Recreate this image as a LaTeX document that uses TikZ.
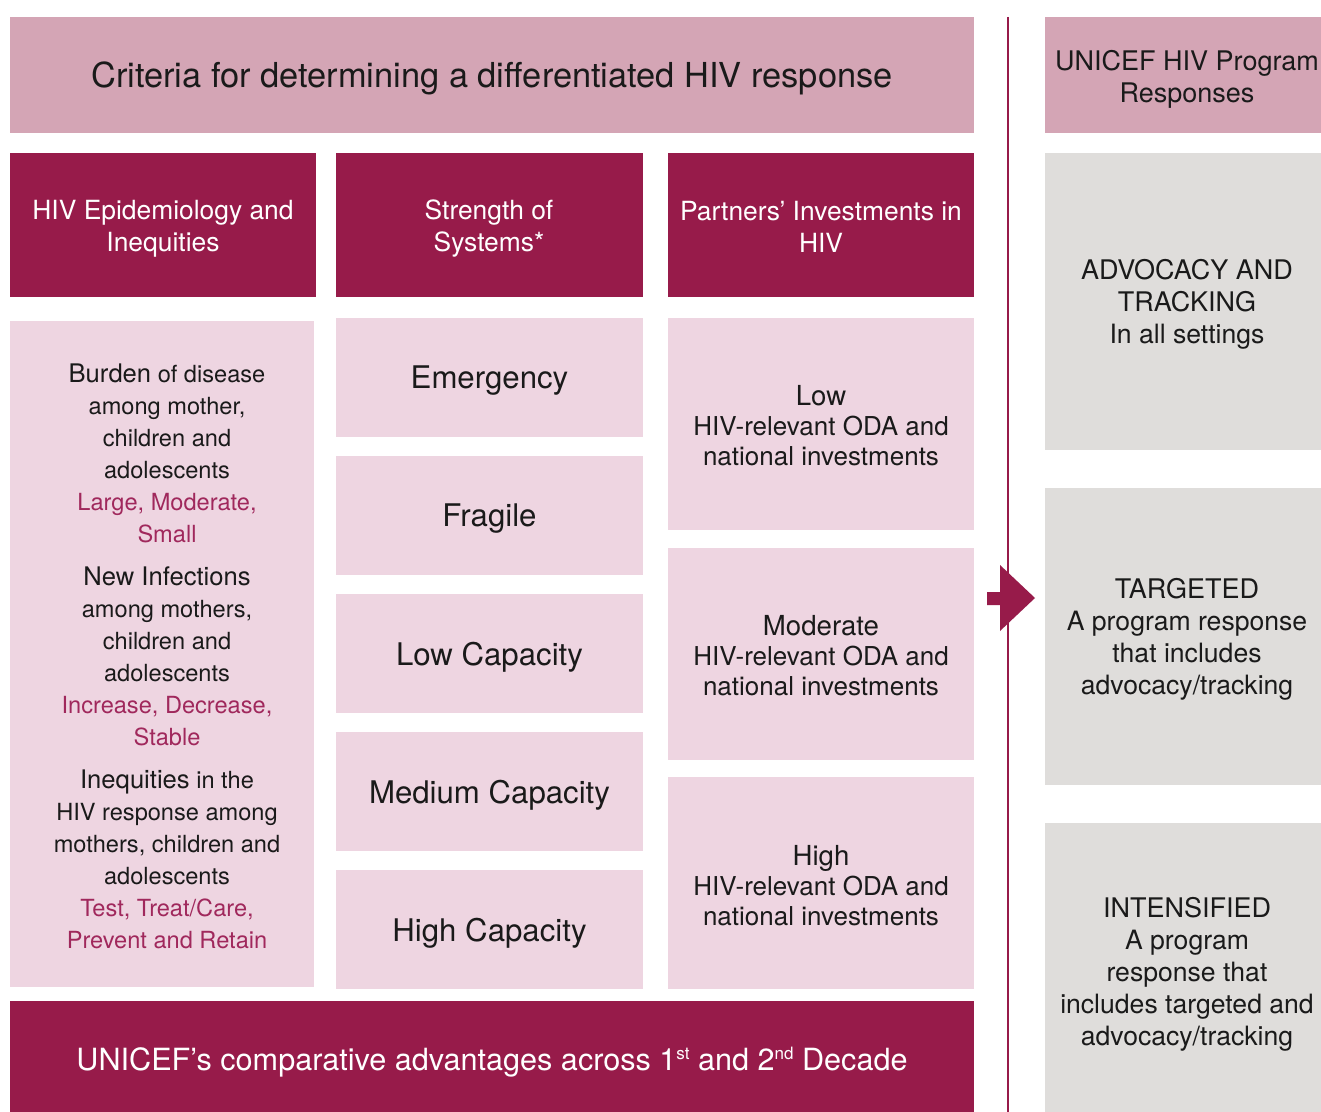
\documentclass[tikz,border=0pt]{standalone}
\usepackage{fontspec}
\setmainfont{TeX Gyre Heros}
\definecolor{unired}{HTML}{971B4A}
\definecolor{unimauve}{HTML}{D4A5B5}
\definecolor{unipink}{HTML}{EED5E1}
\definecolor{unigrey}{HTML}{DFDDDB}
\definecolor{unitext}{HTML}{A0285C}
\definecolor{unink}{HTML}{1A1A1A}
\tikzset{
	hdr/.style={text=white, align=center, font=\fontsize{13.2}{16}\selectfont},
	sys/.style={text=unink, align=center, font=\fontsize{15.6}{18}\selectfont},
	inv/.style={text=unink, align=center, font=\fontsize{13}{15}\selectfont},
	resp/.style={text=unink, align=center, font=\fontsize{13.3}{16}\selectfont},
	big/.style={align=center},
}
\newcommand{\hl}[1]{\textcolor{unitext}{#1}}
\newcommand{\sups}[1]{\raisebox{5.5pt}{\fontsize{8.5}{9}\selectfont #1}}
\begin{document}
\begin{tikzpicture}[x=0.5pt, y=-0.5pt]
		\useasboundingbox (0,0) rectangle (1321,1112);
		
		% top bars
		\fill[unimauve] (10,17) rectangle (974,133);
		\node[big, text=unink, font=\fontsize{17.2}{20}\selectfont] (crit) at (492,78) {Criteria for determining a differentiated HIV response};
		\fill[unimauve] (1045,17) rectangle (1321,133);
		\node[resp, font=\fontsize{13.5}{16}\selectfont] (resphead) at (1187,79) {UNICEF HIV Program\\Responses};
		
		% column heads
		\fill[unired] (10,153) rectangle (316,297);
		\node[hdr] (epi) at (163,229) {HIV Epidemiology and\\Inequities};
		\fill[unired] (336,153) rectangle (643,297);
		\node[hdr] (strength) at (489,229) {Strength of\\Systems*};
		\fill[unired] (668,153) rectangle (974,297);
		\node[hdr] (partners) at (821,227) {Partners’ Investments in\\HIV};
		
		% epidemiology
		\fill[unipink] (10,321) rectangle (314,987);
		\node[text=unink, align=center, font=\fontsize{11.8}{16}\selectfont] (burden) at (167,656) {%
			{\fontsize{12.8}{16}\selectfont Burden} of disease\\among mother,\\children and\\adolescents\\
			\hl{Large, Moderate,}\\\hl{Small}\\[5.5pt]
			{\fontsize{12.8}{16}\selectfont New Infections}\\among mothers,\\children and\\adolescents\\
			\hl{Increase, Decrease,}\\\hl{Stable}\\[5.5pt]
			{\fontsize{12.8}{16}\selectfont Inequities} in the\\HIV response among\\mothers, children and\\adolescents\\
			\hl{Test, Treat/Care,}\\\hl{Prevent and Retain}};
		
		% strength of systems
		\foreach \lbl/\y [count=\i] in {Emergency/378, Fragile/516, Low Capacity/654, Medium Capacity/792, High Capacity/930}{
			\fill[unipink] (336,\y-60) rectangle (643,\y+59);
			\node[sys] (sys\i) at (489.5,\y+3) {\lbl};
		}
		
		% investments
		\fill[unipink] (668,318) rectangle (974,530);
		\node[inv] (low) at (821,426) {{\fontsize{13.8}{15}\selectfont Low}\\HIV-relevant ODA and\\national investments};
		\fill[unipink] (668,548) rectangle (974,760);
		\node[inv] (moderate) at (821,656) {{\fontsize{13.8}{15}\selectfont Moderate}\\HIV-relevant ODA and\\national investments};
		\fill[unipink] (668,777) rectangle (974,989);
		\node[inv] (high) at (821,886) {{\fontsize{13.8}{15}\selectfont High}\\HIV-relevant ODA and\\national investments};
		
		% bottom bar
		\fill[unired] (10,1001) rectangle (974,1112);
		\node[big, text=white, font=\fontsize{15.3}{18}\selectfont] (adv) at (492,1062) {UNICEF’s comparative advantages across 1\sups{st} and 2\sups{nd} Decade};
		
		% divider and arrow
		\draw[unired, line width=1pt] (1008,17) -- (1008,1112);
		\fill[unired] (987,592) -- (1000,592) -- (1000,565) -- (1035,598) -- (1000,631) -- (1000,605) -- (987,605) -- cycle;
		
		% responses
		\fill[unigrey] (1045,153) rectangle (1321,450);
		\node[resp] (track) at (1187,304) {{\fontsize{13.5}{16}\selectfont ADVOCACY AND}\\{\fontsize{13.5}{16}\selectfont TRACKING}\\In all settings};
		\fill[unigrey] (1045,488) rectangle (1321,785);
		\node[resp] (target) at (1187,639) {{\fontsize{13.5}{16}\selectfont TARGETED}\\A program response\\that includes\\advocacy/tracking};
		\fill[unigrey] (1045,823) rectangle (1321,1112);
		\node[resp] (intense) at (1187,974) {{\fontsize{13.5}{16}\selectfont INTENSIFIED}\\A program\\response that\\includes targeted and\\advocacy/tracking};
	\end{tikzpicture}
\end{document}
